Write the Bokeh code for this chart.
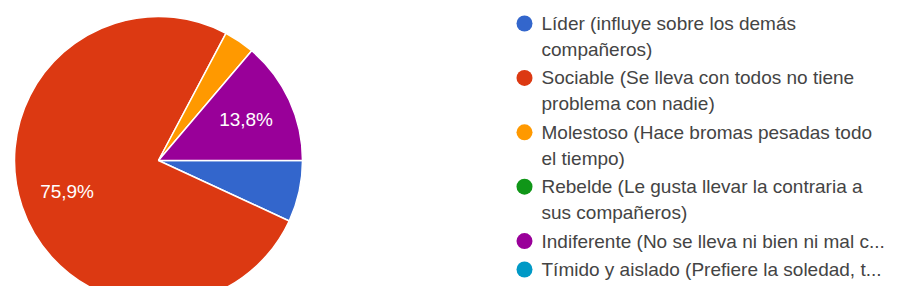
import numpy as np
from bokeh.plotting import figure
from bokeh.models import Range1d, ColumnDataSource
from bokeh.core.properties import value
from bokeh.embed import file_html
from bokeh.resources import INLINE

# ---- data ----
categories = [
    "Líder (influye sobre los demás compañeros)",
    "Sociable (Se lleva con todos no tiene problema con nadie)",
    "Molestoso (Hace bromas pesadas todo el tiempo)",
    "Rebelde (Le gusta llevar la contraria a sus compañeros)",
    "Indiferente (No se lleva ni bien ni mal c...",
    "Tímido y aislado (Prefiere la soledad, t...",
]
legend_lines = [
    ["Líder (influye sobre los demás", "compañeros)"],
    ["Sociable (Se lleva con todos no tiene", "problema con nadie)"],
    ["Molestoso (Hace bromas pesadas todo", "el tiempo)"],
    ["Rebelde (Le gusta llevar la contraria a", "sus compañeros)"],
    ["Indiferente (No se lleva ni bien ni mal c..."],
    ["Tímido y aislado (Prefiere la soledad, t..."],
]
counts = [2, 22, 1, 0, 4, 0]
colors = ["#3366cc", "#dc3912", "#ff9900", "#109618", "#990099", "#0099c6"]

# ---- layout ----
W, H = 886, 286
def fx(img_x):
    return img_x
def fy(img_y):
    return H - img_y

p = figure(width=W, height=H, output_backend="svg", toolbar_location=None,
           x_range=Range1d(0, W), y_range=Range1d(0, H), min_border=0,
           background_fill_color="white", border_fill_color="white")
p.axis.visible = False
p.grid.visible = False
p.outline_line_color = None

cx, cy, R = fx(158), fy(160), 144
total = float(sum(counts))
frac = np.array(counts) / total
cum = np.concatenate([[0.0], np.cumsum(frac)])

starts, ends, cols, lx, ly, ltxt = [], [], [], [], [], []
for i, f in enumerate(frac):
    if f <= 0:
        continue
    # clockwise from 3 o'clock
    s = -cum[i + 1] * 2 * np.pi
    e = -cum[i] * 2 * np.pi
    starts.append(s)
    ends.append(e)
    cols.append(colors[i])
    if f >= 0.1:
        mid = (s + e) / 2
        lx.append(cx + 0.67 * R * np.cos(mid))
        ly.append(cy + 0.67 * R * np.sin(mid))
        ltxt.append(f"{f*100:.1f}%".replace(".", ","))

src = ColumnDataSource(dict(x=[cx] * len(starts), y=[cy] * len(starts),
                            s=starts, e=ends, c=cols))
p.wedge(x="x", y="y", radius=R, start_angle="s", end_angle="e",
        fill_color="c", line_color="white", line_width=1.5, source=src)

p.text(x=lx, y=ly, text=ltxt, text_color="white", text_font=value("Liberation Sans"),
       text_font_size="19px", text_align="center", text_baseline="middle")

# legend
mx, tx = fx(524), fx(541)
line_no = 0
ly_items, tl_x, tl_y, tl_t = [], [], [], []
for i, lines in enumerate(legend_lines):
    y0 = 23 + 26 * line_no + 2.4 * i
    ly_items.append(fy(y0))
    for j, t in enumerate(lines):
        tl_x.append(tx)
        tl_y.append(fy(y0 + 26 * j))
        tl_t.append(t)
    line_no += len(lines)

p.scatter(x=[mx] * len(colors), y=ly_items, size=16, marker="circle",
          fill_color=colors, line_color=None)
p.text(x=tl_x, y=tl_y, text=tl_t, text_color="#444444",
       text_font=value("Liberation Sans"), text_font_size="19px",
       text_align="left", text_baseline="middle")

open("out.html", "w").write(file_html(p, INLINE))
